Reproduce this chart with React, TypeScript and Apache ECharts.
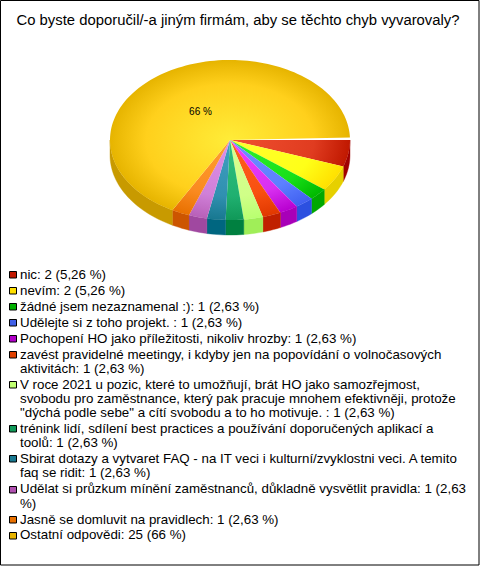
import React, { useEffect, useRef } from "react";
import * as echarts from "echarts";

const titleText = "Co byste doporučil/-a jiným firmám, aby se těchto chyb vyvarovaly?";
const legendLines: string[][] = [
  ["nic: 2 (5,26 %)"],
  ["nevím: 2 (5,26 %)"],
  ["žádné jsem nezaznamenal :): 1 (2,63 %)"],
  ["Udělejte si z toho projekt. : 1 (2,63 %)"],
  ["Pochopení HO jako příležitosti, nikoliv hrozby: 1 (2,63 %)"],
  ["zavést pravidelné meetingy, i kdyby jen na popovídání o volnočasových", "aktivitách: 1 (2,63 %)"],
  ["V roce 2021 u pozic, které to umožňují, brát HO jako samozřejmost,", "svobodu pro zaměstnance, který pak pracuje mnohem efektivněji, protože", "\"dýchá podle sebe\" a cítí svobodu a to ho motivuje. : 1 (2,63 %)"],
  ["trénink lidí, sdílení best practices a používání doporučených aplikací a", "toolů: 1 (2,63 %)"],
  ["Sbirat dotazy a vytvaret FAQ - na IT veci i kulturní/zvyklostni veci. A temito", "faq se ridit: 1 (2,63 %)"],
  ["Udělat si průzkum mínění zaměstnanců, důkladně vysvětlit pravidla: 1 (2,63", "%)"],
  ["Jasně se domluvit na pravidlech: 1 (2,63 %)"],
  ["Ostatní odpovědi: 25 (66 %)"],
];
const sliceDegrees = [19.3, 18.9, 9.0, 9.0, 9.0, 8.9, 9.3, 8.7, 9.0, 8.9, 8.7, 239.5];
const sliceLabels = ["", "", "", "", "", "", "", "", "", "", "", "66 %"];
const legendColors = ["#c01800", "#ffe000", "#00b000", "#4060e8", "#b000c8", "#e04000", "#c0ff70", "#109858", "#187890", "#b050b0", "#e87000", "#e8b400"];
const innerColors = ["#f05030", "#ffff30", "#30f030", "#7090ff", "#f040ff", "#ff6020", "#d8ff90", "#30c080", "#40a0c0", "#e090e8", "#ffa030", "#ffec38"];
const midColors = ["#e03c20", "#ffff18", "#18e018", "#5c80ff", "#d830f0", "#f85010", "#d0ff88", "#20b070", "#3090b0", "#d080d8", "#fa8a20", "#ffd01c"];
const outerColors = ["#c01800", "#ffe000", "#00b800", "#4060f0", "#b800d0", "#e03800", "#b8ff70", "#109858", "#187890", "#b860b8", "#e87000", "#e6b400"];
const wallColors = ["#a00000", "#e6d000", "#00a800", "#2c50e0", "#a800b8", "#c02000", "#a0ee58", "#008040", "#006680", "#a048a0", "#cc5500", "#c89a00"];

const cx = 230, cy = 140, rx = 120, ry = 80, depth = 15;

function arc(a0: number, a1: number, sy: number, ox = 0, oy = 0): number[][] {
  const steps = Math.max(2, Math.ceil(Math.abs(a1 - a0) / 2));
  const pts: number[][] = [];
  for (let i = 0; i <= steps; i++) {
    const t = ((a0 + ((a1 - a0) * i) / steps) * Math.PI) / 180;
    pts.push([ox + rx * Math.cos(t), oy + sy * Math.sin(t)]);
  }
  return pts;
}

export default function App() {
  const ref = useRef<HTMLDivElement>(null);
  useEffect(() => {
    document.body.style.margin = "0";
    const chart = echarts.init(ref.current!, undefined, { renderer: "svg" });
    const starts: number[] = [];
    sliceDegrees.reduce((s, d, i) => ((starts[i] = s), s + d), 0);

    const graphic: any[] = [
      { type: "rect", shape: { x: 0.5, y: 0.5, width: 478.5, height: 564.5 }, style: { fill: "#fff", stroke: "#000", lineWidth: 1 }, z: -1 },
      { type: "text", x: 238, y: 20, style: { text: titleText, font: "14.85px 'Liberation Sans'", fill: "#000", align: "center", verticalAlign: "middle" } },
    ];
    let y = 274.3;
    legendLines.forEach((lines, i) => {
      graphic.push({ type: "rect", shape: { x: 9.5, y: Math.round(y - 3.3) + 0.5, width: 7, height: 6.5 }, style: { fill: legendColors[i], stroke: "#000", lineWidth: 1 } });
      lines.forEach((line, j) => {
        graphic.push({ type: "text", x: 20, y: y + j * 14.2, style: { text: line, font: "13.33px 'Liberation Sans'", fill: "#000", verticalAlign: "middle" } });
      });
      y += 15.95 + (lines.length - 1) * 14.2;
    });

    chart.setOption({
      animation: false,
      graphic,
      series: [
        {
          type: "custom",
          coordinateSystem: "none",
          silent: true,
          data: sliceDegrees.map((d, i) => [starts[i], d, i]),
          renderItem: (_: any, api: any) => {
            const a0 = api.value(0), d = api.value(1), i = api.value(2);
            const a1 = a0 + d;
            const children: any[] = [];
            const wa0 = Math.min(a0, 180), wa1 = Math.min(a1, 180);
            if (wa1 > wa0) {
              children.push({
                type: "polygon",
                x: cx,
                y: cy,
                shape: { points: [...arc(wa0, wa1, ry), ...arc(wa1, wa0, ry, 0, depth)] },
                style: { fill: wallColors[i], stroke: wallColors[i], lineWidth: 0.4 },
              });
            }
            children.push({
              type: "group",
              x: cx,
              y: cy,
              scaleY: ry / rx,
              children: [
                {
                  type: "polygon",
                  shape: { points: [[0, 0], ...arc(a0, a1, rx)] },
                  style: {
                    fill: new echarts.graphic.RadialGradient(0, 0, rx, [
                      { offset: 0, color: innerColors[i] },
                      { offset: 0.7, color: midColors[i] },
                      { offset: 1, color: outerColors[i] },
                    ], true),
                  },
                },
              ],
            });
            if (sliceLabels[i]) {
              children.push({
                type: "text",
                x: 200.5,
                y: 111,
                style: { text: sliceLabels[i], font: "10px 'Liberation Sans'", fill: "#000", align: "center", verticalAlign: "middle" },
              });
            }
            return { type: "group", children };
          },
        },
      ],
    });
    return () => chart.dispose();
  }, []);
  return <div ref={ref} style={{ width: 480, height: 566 }} />;
}
